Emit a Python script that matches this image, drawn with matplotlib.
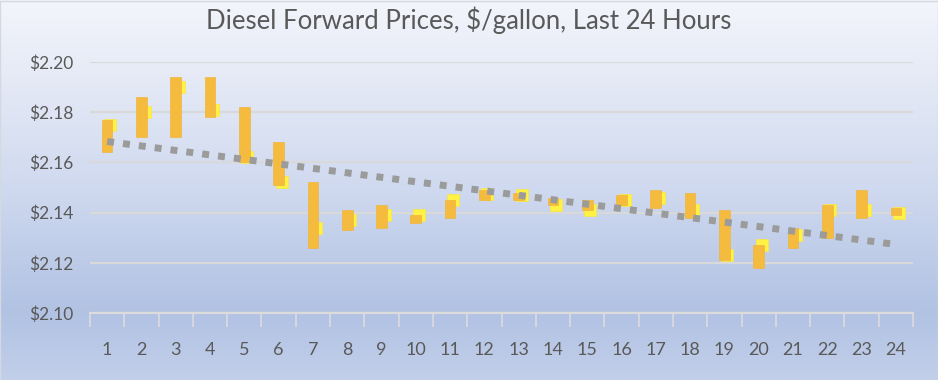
import numpy as np
import matplotlib.pyplot as plt
from matplotlib.colors import LinearSegmentedColormap

# Hourly diesel forward prices ($/gallon)
hours = list(range(1, 25))
bar_high = [2.177, 2.186, 2.194, 2.194, 2.182, 2.168, 2.152, 2.141, 2.143, 2.139, 2.145, 2.149,
            2.148, 2.146, 2.145, 2.147, 2.149, 2.148, 2.141, 2.127, 2.134, 2.143, 2.149, 2.142]
bar_low = [2.164, 2.170, 2.170, 2.178, 2.160, 2.151, 2.126, 2.133, 2.134, 2.136, 2.138, 2.145,
           2.145, 2.143, 2.141, 2.143, 2.142, 2.138, 2.121, 2.118, 2.126, 2.130, 2.138, 2.139]
last_price = [2.175, 2.180, 2.190, 2.181, 2.162, 2.152, 2.134, 2.137, 2.139, 2.139, 2.145, 2.1475,
              2.147, 2.143, 2.141, 2.145, 2.146, 2.141, 2.123, 2.127, 2.131, 2.141, 2.141, 2.140]
y_ticks = [2.10, 2.12, 2.14, 2.16, 2.18, 2.20]

plt.rcParams["font.family"] = ["Lato", "DejaVu Sans"]
text_color = "#595959"

fig = plt.figure(figsize=(9.38, 3.8), dpi=100)

# background gradient over the whole chart area
bg = fig.add_axes([0, 0, 1, 1], zorder=-10)
grad_cmap = LinearSegmentedColormap.from_list(
    "bg",
    [(0.0, "#f3f5fb"), (0.15, "#e9edf7"), (0.5, "#cfd9ef"), (0.82, "#b1c2e3"), (1.0, "#c2cfea")],
)
bg.imshow(np.linspace(0, 1, 256).reshape(-1, 1), aspect="auto", cmap=grad_cmap,
          extent=[0, 1, 0, 1], origin="upper")
bg.set_xlim(0, 1)
bg.set_ylim(0, 1)
bg.axis("off")
bg.add_patch(plt.Rectangle((0.0005, 0.001), 0.999, 0.997, fill=False, ec="#d4d8e0", lw=1))

ax = fig.add_axes([90 / 938, 67 / 380, 823 / 938, 251 / 380])
ax.patch.set_alpha(0)

# up/down bars and last-price markers
heights = np.subtract(bar_high, bar_low)
ax.plot(np.array(hours) + 0.09, last_price, "s", ms=9, color="#fff245", mec="#f8e645",
        mew=0.5, zorder=2)
ax.bar(hours, heights, bottom=bar_low, width=0.31, color="#f5bb3f", edgecolor="#efb63e",
       lw=0.5, zorder=3)

# linear trendline
coef = np.polyfit(hours, last_price, 1)
ax.plot(hours, np.polyval(coef, hours), color="#9b9b9b", lw=5, linestyle=(0, (1, 1.3)),
        dash_capstyle="butt", zorder=4)

ax.set_xlim(0.5, 24.5)
ax.set_ylim(2.10, 2.20)
ax.set_yticks(y_ticks)
ax.set_yticklabels([f"${v:.2f}" for v in y_ticks])
ax.yaxis.grid(True, color="#d9d9d9", lw=1.6, zorder=0)
ax.set_axisbelow(True)

ax.set_xticks(hours)
ax.set_xticklabels([str(h) for h in hours])
ax.set_xticks(np.arange(0.5, 25, 1), minor=True)
ax.tick_params(axis="x", which="major", length=0, pad=21, labelsize=13, colors=text_color)
ax.tick_params(axis="x", which="minor", length=10, width=1.2, color="#dcdcdc", direction="out")
ax.tick_params(axis="y", length=0, pad=12, labelsize=12.5, colors=text_color)

for side in ["top", "right", "left"]:
    ax.spines[side].set_visible(False)
ax.spines["bottom"].set_color("#dcdcdc")
ax.spines["bottom"].set_linewidth(1.6)

fig.text(0.5, 1 - 20 / 380, "Diesel Forward Prices, $/gallon, Last 24 Hours",
         ha="center", va="center", fontsize=18.5, color=text_color)

fig.savefig("out.png", dpi=100)
